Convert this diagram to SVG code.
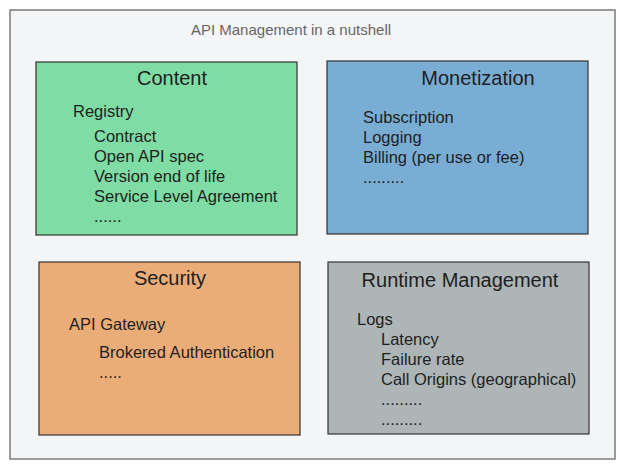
<svg xmlns="http://www.w3.org/2000/svg" width="626" height="469" viewBox="0 0 626 469">
<style>
.frame{fill:#f4f5f7;stroke:#7a7a7a;stroke-width:1.5}
.box{stroke:#333;stroke-width:1.2}
.t{font-family:"Liberation Sans","DejaVu Sans",sans-serif;fill:#1e1e1e}
.h{font-size:20px;text-anchor:middle}
.b{font-size:16.5px}
.title{font-family:"Liberation Sans","DejaVu Sans",sans-serif;font-size:15px;fill:#666;text-anchor:middle}
</style>
<rect width="626" height="469" fill="#ffffff"/>
<g id="frame">
<rect class="frame" x="10" y="10" width="605" height="449"/>
<text class="title" x="291" y="35">API Management in a nutshell</text>
</g>
<g id="content">
<rect class="box" x="36" y="62" width="261" height="173" fill="#7edca4"/>
<text class="t h" x="172" y="85">Content</text>
<text class="t b" x="73" y="117">Registry</text>
<text class="t b" x="94" y="142">Contract</text>
<text class="t b" x="94" y="162">Open API spec</text>
<text class="t b" x="94" y="182">Version end of life</text>
<text class="t b" x="94" y="202">Service Level Agreement</text>
<text class="t b" x="94" y="222">......</text>
</g>
<g id="monetization">
<rect class="box" x="327" y="61" width="261" height="173" fill="#79add3"/>
<text class="t h" x="478" y="85">Monetization</text>
<text class="t b" x="363" y="123">Subscription</text>
<text class="t b" x="363" y="143">Logging</text>
<text class="t b" x="363" y="163">Billing (per use or fee)</text>
<text class="t b" x="363" y="183">.........</text>
</g>
<g id="security">
<rect class="box" x="39" y="262" width="261" height="173" fill="#ebad78"/>
<text class="t h" x="170" y="285">Security</text>
<text class="t b" x="69" y="330">API Gateway</text>
<text class="t b" x="99" y="358">Brokered Authentication</text>
<text class="t b" x="99" y="378">.....</text>
</g>
<g id="runtime">
<rect class="box" x="328" y="262" width="261" height="172" fill="#adb5b7"/>
<text class="t h" x="460" y="287">Runtime Management</text>
<text class="t b" x="357" y="325">Logs</text>
<text class="t b" x="381" y="345">Latency</text>
<text class="t b" x="381" y="365">Failure rate</text>
<text class="t b" x="381" y="385">Call Origins (geographical)</text>
<text class="t b" x="381" y="405">.........</text>
<text class="t b" x="381" y="425">.........</text>
</g>
<g id="connectors"></g>
</svg>
